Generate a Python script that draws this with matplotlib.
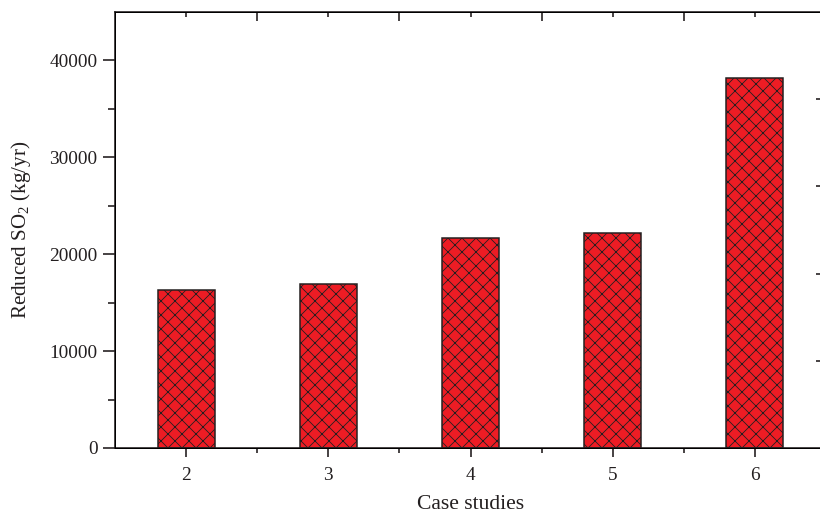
import numpy as np
import matplotlib
matplotlib.use('Agg')
import matplotlib.pyplot as plt

# data
cases = [2, 3, 4, 5, 6]
reduced_so2 = [16330, 16880, 21670, 22220, 38170]

plt.rcParams['font.family'] = ['Liberation Serif', 'DejaVu Serif']
plt.rcParams['mathtext.fontset'] = 'custom'
plt.rcParams['mathtext.rm'] = 'Liberation Serif'
plt.rcParams['mathtext.it'] = 'Liberation Serif:italic'
plt.rcParams['hatch.linewidth'] = 0.7

DPI = 84
fig = plt.figure(figsize=(820 / DPI, 517 / DPI), dpi=DPI)
ax = fig.add_axes([115 / 820, 1 - 448 / 517, 711 / 820, 436 / 517])

ax.bar(cases, reduced_so2, width=0.4, color='#ED1C24', edgecolor='#231F20',
       linewidth=1.3, hatch='xx', zorder=2)

ax.set_xlim(1.5, 6.5)
ax.set_ylim(0, 45000)
ax.set_xticks(cases)
ax.set_xticks(np.arange(2.5, 6.5, 1.0), minor=True)
ax.set_yticks(np.arange(0, 45000, 10000))
ax.set_yticks(np.arange(5000, 45000, 10000), minor=True)

for sp in ax.spines.values():
    sp.set_linewidth(1.4)
    sp.set_color('#231F20')

ax.tick_params(axis='y', which='major', direction='out', length=10, width=1.4,
               labelsize=16.5, pad=5, colors='#231F20')
ax.tick_params(axis='y', which='minor', direction='out', length=6, width=1.4,
               colors='#231F20')
ax.tick_params(axis='x', which='major', direction='out', length=8, width=1.4,
               labelsize=16.5, pad=8, colors='#231F20')
ax.tick_params(axis='x', which='minor', direction='out', length=4, width=1.4,
               colors='#231F20')

# mirrored top axis (ticks only)
top = ax.twiny()
top.set_xlim(ax.get_xlim())
top.set_xticks(np.arange(2.5, 6.5, 1.0))
top.set_xticks(cases, minor=True)
top.set_xticklabels([])
top.tick_params(axis='x', which='major', direction='in', length=8, width=1.4,
                colors='#231F20')
top.tick_params(axis='x', which='minor', direction='in', length=4, width=1.4,
                colors='#231F20')

# right axis (ticks only)
right = ax.twinx()
right.set_ylim(0, 5)
right.set_yticks([1, 2, 3, 4])
right.set_yticklabels([])
right.tick_params(axis='y', direction='in', length=9, width=1.4, colors='#231F20')

ax.set_xlabel('Case studies', fontsize=18.5, labelpad=10, color='#231F20')
ax.set_ylabel('Reduced SO$_2$ (kg/yr)', fontsize=18, labelpad=14, color='#231F20')

fig.savefig('out.png', dpi=DPI)
